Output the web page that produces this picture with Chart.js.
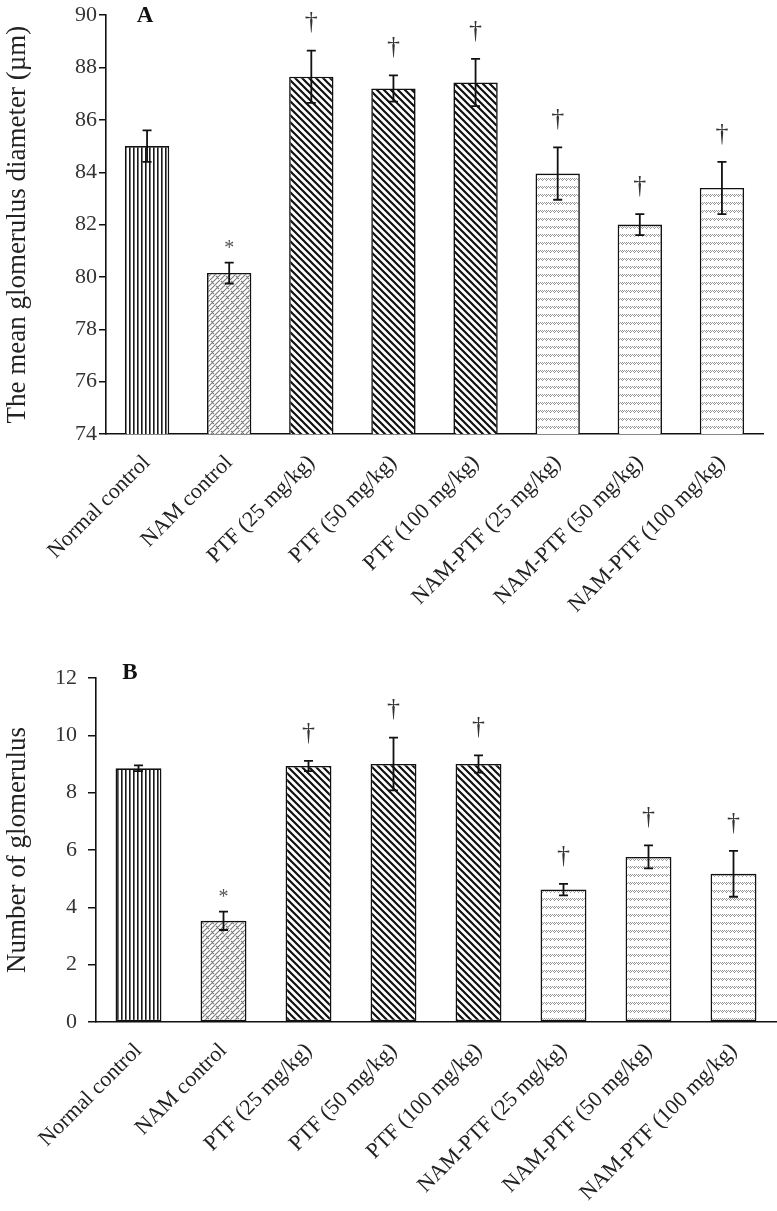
<!DOCTYPE html>
<html>
<head>
<meta charset="utf-8">
<script src="https://cdn.jsdelivr.net/npm/chart.js@4.4.1/dist/chart.umd.min.js"></script>
<style>
  body { margin: 0; background: #fff; }
  canvas { display: block; }
</style>
</head>
<body>
<canvas id="chartA" width="777" height="640"></canvas>
<canvas id="chartB" width="777" height="571"></canvas>
<script>
// --- DATA --- //
const groups = [
  "Normal control",
  "NAM control",
  "PTF (25 mg/kg)",
  "PTF (50 mg/kg)",
  "PTF (100 mg/kg)",
  "NAM-PTF (25 mg/kg)",
  "NAM-PTF (50 mg/kg)",
  "NAM-PTF (100 mg/kg)",
];
const diameterMean = [85.0, 80.15, 87.65, 87.2, 87.43, 83.95, 82.0, 83.4];
const diameterSem = [0.6, 0.4, 1.0, 0.5, 0.9, 1.0, 0.4, 1.0];
const countMean = [8.85, 3.53, 8.93, 9.0, 9.0, 4.62, 5.76, 5.17];
const countSem = [0.1, 0.32, 0.18, 0.92, 0.3, 0.2, 0.4, 0.8];
const signif = ["", "*", "†", "†", "†", "†", "†", "†"];
const diameterAxis = [74, 90, 2]; // min, max, step
const countAxis = [0, 12, 2];

const serif = "'Liberation Serif', 'DejaVu Serif', serif";

// --- FILL PATTERNS --- //
function makePattern(w, h, draw) {
  const c = document.createElement("canvas");
  c.width = w;
  c.height = h;
  const g = c.getContext("2d");
  g.fillStyle = "#fff";
  g.fillRect(0, 0, w, h);
  draw(g, w, h);
  return g.createPattern(c, "repeat");
}

// vertical lines
const vertPat = makePattern(4, 4, (g) => {
  g.fillStyle = "#1a1a1a";
  g.fillRect(1, 0, 1.6, 4);
});
// light weave
const weavePat = makePattern(10, 10, (g) => {
  g.strokeStyle = "#7a7a7a";
  g.lineWidth = 1.1;
  g.beginPath();
  g.moveTo(-1, 11); g.lineTo(11, -1);
  g.moveTo(-1, 6); g.lineTo(6, -1);
  g.moveTo(4, 11); g.lineTo(11, 4);
  g.moveTo(1, 1); g.lineTo(4, 4);
  g.moveTo(6, 6); g.lineTo(9, 9);
  g.stroke();
});
// wide downward diagonal
const diagPat = makePattern(7, 7, (g) => {
  g.strokeStyle = "#111";
  g.lineWidth = 2.2;
  g.beginPath();
  for (let o = -7; o <= 7; o += 7) {
    g.moveTo(o - 1, -1);
    g.lineTo(o + 8, 8);
  }
  g.stroke();
});
// small gray wave rows
const wavePat = makePattern(4, 8, (g) => {
  g.strokeStyle = "#999";
  g.lineWidth = 1;
  g.beginPath();
  g.moveTo(0, 2); g.lineTo(3, 5);
  g.moveTo(2, 2); g.lineTo(4, 4);
  g.stroke();
});
const fills = [vertPat, weavePat, diagPat, diagPat, diagPat, wavePat, wavePat, wavePat];

// --- PLUGINS --- //
// error bars + significance marks
const errorBars = {
  id: "errorBars",
  afterDatasetsDraw(chart, args, opts) {
    const { ctx, scales } = chart;
    const meta = chart.getDatasetMeta(0);
    const vals = chart.data.datasets[0].data;
    ctx.save();
    meta.data.forEach((bar, i) => {
      const hi = scales.y.getPixelForValue(vals[i] + opts.err[i]);
      const lo = scales.y.getPixelForValue(vals[i] - opts.err[i]);
      ctx.strokeStyle = "#111";
      ctx.lineWidth = 1.8;
      ctx.beginPath();
      ctx.moveTo(bar.x, hi); ctx.lineTo(bar.x, lo);
      ctx.moveTo(bar.x - 4.5, hi); ctx.lineTo(bar.x + 4.5, hi);
      ctx.moveTo(bar.x - 4.5, lo); ctx.lineTo(bar.x + 4.5, lo);
      ctx.stroke();
      const m = opts.marks[i];
      if (m) {
        ctx.textAlign = "center";
        ctx.textBaseline = "middle";
        if (m === "*") {
          ctx.fillStyle = "#555";
          ctx.font = "20px " + serif;
          ctx.fillText(m, bar.x, hi - 14);
        } else {
          ctx.fillStyle = "#333";
          ctx.font = "26px " + serif;
          ctx.fillText(m, bar.x, hi - 28);
        }
      }
    });
    ctx.restore();
  },
};

// panel letter
const panelLetter = {
  id: "panelLetter",
  afterDraw(chart, args, opts) {
    const { ctx, chartArea } = chart;
    ctx.save();
    ctx.fillStyle = "#111";
    ctx.font = "bold 23px " + serif;
    ctx.textAlign = "center";
    ctx.textBaseline = "middle";
    ctx.fillText(opts.text, chartArea.left + opts.dx, chartArea.top + opts.dy);
    ctx.restore();
  },
};

function makeChart(el, cfg) {
  return new Chart(el, {
    type: "bar",
    data: {
      labels: groups,
      datasets: [
        {
          data: cfg.values,
          backgroundColor: fills,
          borderColor: "#111",
          borderWidth: 1.6,
          borderSkipped: false,
          barPercentage: 0.54,
          categoryPercentage: 1.0,
        },
      ],
    },
    options: {
      responsive: false,
      animation: false,
      layout: { padding: { top: cfg.top, right: cfg.right, left: 2, bottom: 0 } },
      plugins: {
        legend: { display: false },
        tooltip: { enabled: false },
        errorBars: { err: cfg.err, marks: signif },
        panelLetter: cfg.letter,
      },
      scales: {
        x: {
          grid: { display: false },
          border: { display: true, color: "#111", width: 1.6 },
          ticks: {
            autoSkip: false,
            maxRotation: 45,
            minRotation: 45,
            padding: 8,
            color: "#222",
            font: { family: serif, size: 22 },
          },
          afterFit(scale) {
            scale.height = cfg.xHeight;
          },
        },
        y: {
          min: cfg.axis[0],
          max: cfg.axis[1],
          ticks: {
            stepSize: cfg.axis[2],
            padding: cfg.yPad,
            color: "#333",
            font: { family: serif, size: 22 },
          },
          grid: {
            drawOnChartArea: false,
            drawTicks: true,
            tickLength: cfg.tickLen,
            color: "#111",
            lineWidth: 1.5,
          },
          border: { display: true, color: "#111", width: 1.6 },
          title: {
            display: true,
            text: cfg.title,
            color: "#222",
            font: { family: serif, size: 27 },
            padding: { top: 0, bottom: 2 },
          },
          afterFit(scale) {
            scale.width = cfg.yWidth;
          },
        },
      },
    },
    plugins: [errorBars, panelLetter],
  });
}

// --- PANEL A --- //
makeChart(document.getElementById("chartA"), {
  values: diameterMean,
  err: diameterSem,
  axis: diameterAxis,
  title: "The mean glomerulus diameter (µm)",
  letter: { text: "A", dx: 39, dy: 1 },
  top: 13,
  right: 14,
  xHeight: 206,
  yPad: 2,
  tickLen: 7,
  yWidth: 104,
});

// --- PANEL B --- //
makeChart(document.getElementById("chartB"), {
  values: countMean,
  err: countSem,
  axis: countAxis,
  title: "Number of glomerulus",
  letter: { text: "B", dx: 34, dy: -5 },
  top: 38,
  right: 1,
  xHeight: 189,
  yPad: 11,
  tickLen: 8,
  yWidth: 94,
});
</script>
</body>
</html>
